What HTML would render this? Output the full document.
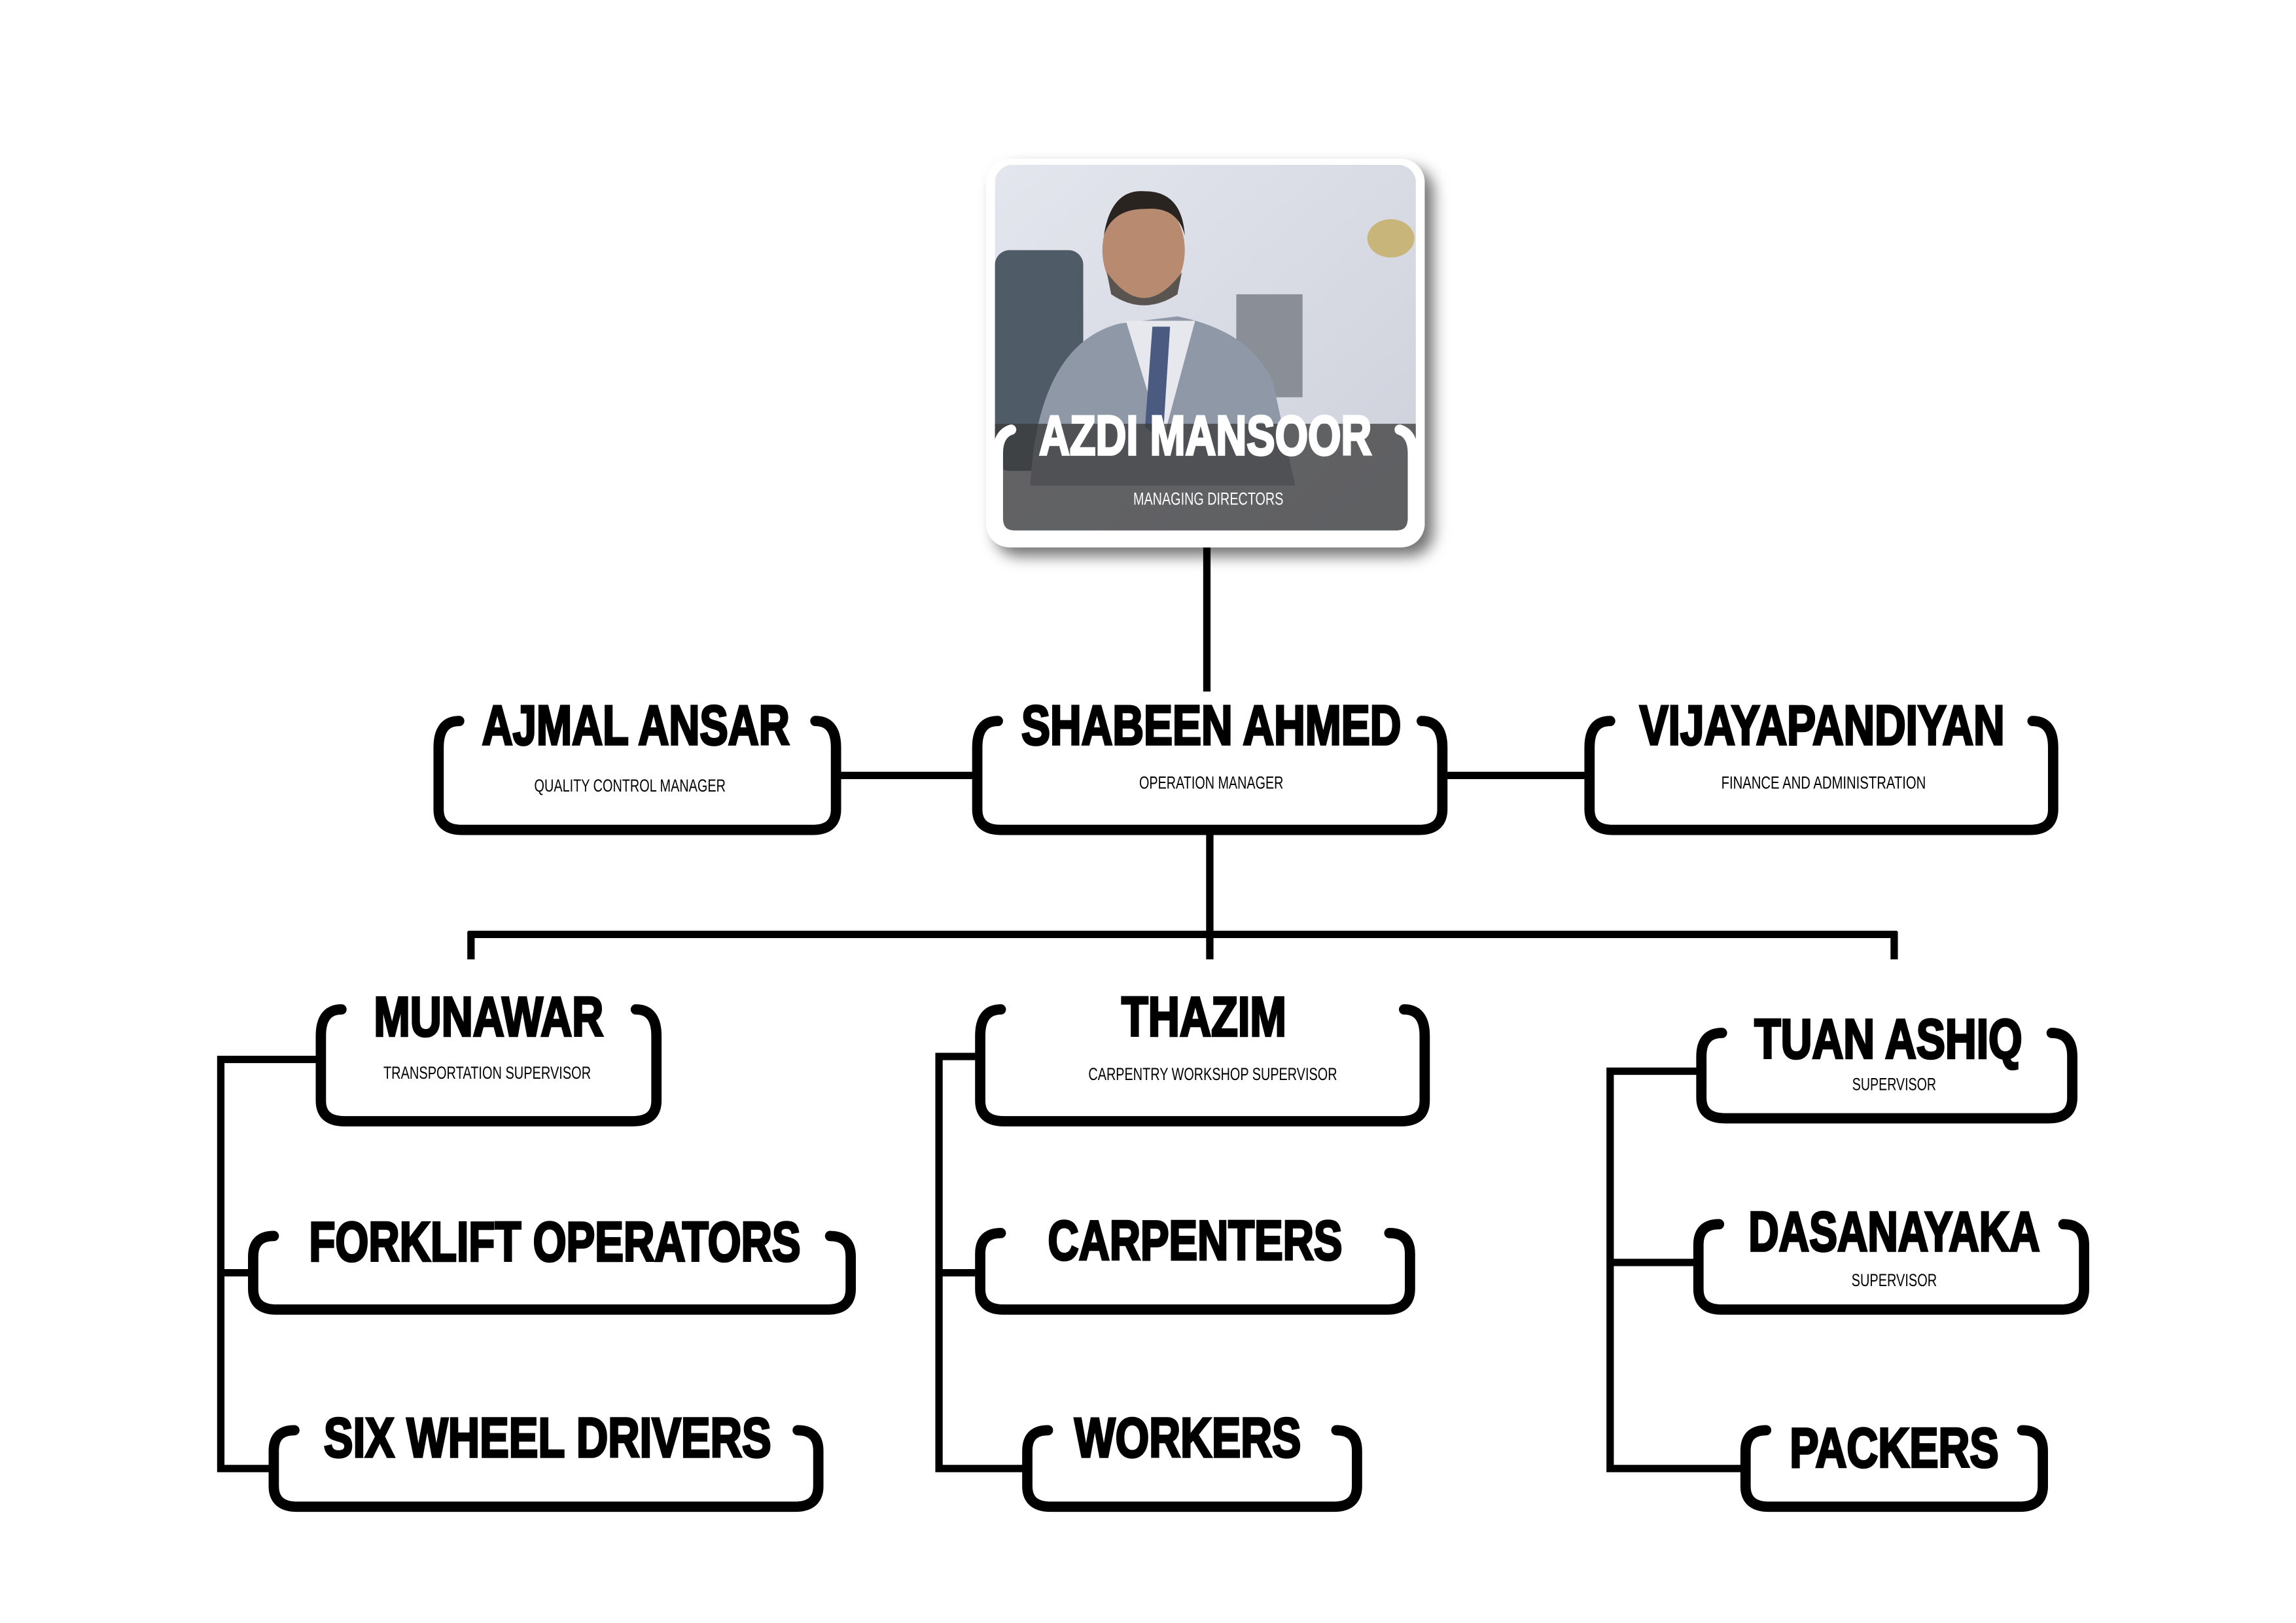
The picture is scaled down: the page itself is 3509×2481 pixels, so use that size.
<!DOCTYPE html>
<html><head><meta charset="utf-8"><style>
html,body{margin:0;padding:0;background:#fff;}
svg{display:block;}
.t{font-family:"Liberation Sans",sans-serif;font-weight:bold;font-size:38px;fill:#000;stroke:#000;stroke-width:1.6;}
.s{font-family:"Liberation Sans",sans-serif;font-size:12px;fill:#000;}
.b{fill:none;stroke:#000;stroke-width:7;stroke-linecap:round;}
.l{stroke:#000;stroke-width:5;fill:none;}
</style></head><body>
<svg width="3509" height="2481" viewBox="0 0 1560 1103" xmlns="http://www.w3.org/2000/svg">
<defs>
<filter id="sh" x="-10%" y="-10%" width="130%" height="130%"><feDropShadow dx="6" dy="6" stdDeviation="5" flood-color="#000" flood-opacity="0.55"/></filter>
<linearGradient id="bg" x1="0" y1="0" x2="1" y2="1"><stop offset="0" stop-color="#e4e6ee"/><stop offset="1" stop-color="#cdd0da"/></linearGradient>
<clipPath id="cp"><rect x="676" y="112" width="286" height="254" rx="12"/></clipPath>
</defs>
<g class="l">
<line x1="820" y1="372" x2="820" y2="470"/>
<line x1="570" y1="527" x2="662" y2="527"/>
<line x1="982" y1="527" x2="1078" y2="527"/>
<line x1="822" y1="566" x2="822" y2="652"/>
<line x1="318" y1="635" x2="1289" y2="635"/>
<line x1="320" y1="633" x2="320" y2="652"/>
<line x1="1287" y1="633" x2="1287" y2="652"/>
<polyline points="216,720 150,720 150,998 184,998"/>
<line x1="150" y1="865" x2="170" y2="865"/>
<polyline points="664,718 638,718 638,998 696,998"/>
<line x1="638" y1="865" x2="664" y2="865"/>
<polyline points="1154,728 1094,728 1094,998 1184,998"/>
<line x1="1094" y1="858" x2="1152" y2="858"/>
</g>
<rect x="670" y="108" width="298" height="264" rx="16" fill="#fff" filter="url(#sh)"/>
<g clip-path="url(#cp)">
<rect x="676" y="112" width="286" height="254" fill="url(#bg)"/>
<rect x="676" y="170" width="60" height="150" rx="10" fill="#4f5b66"/>
<rect x="840" y="200" width="45" height="70" fill="#8a8e96"/>
<path d="M700 330 Q705 235 760 220 L800 215 Q850 225 865 260 L880 330 Z" fill="#8e98a6"/>
<path d="M765 218 L790 300 L812 218 Z" fill="#e6e8ee"/>
<path d="M783 222 L778 290 L790 300 L795 222 Z" fill="#4a5a80"/>
<ellipse cx="777" cy="170" rx="28" ry="36" fill="#b88a70"/>
<path d="M750 160 Q755 128 778 130 Q803 130 805 160 Q800 140 778 142 Q756 142 750 160Z" fill="#2a2420"/>
<path d="M752 185 Q777 220 803 185 L800 200 Q777 215 755 200Z" fill="#5a5450"/>
<ellipse cx="945" cy="162" rx="16" ry="13" fill="#c8b57a"/>
<rect x="676" y="288" width="286" height="78" fill="#3a3a3a" opacity="0.75"/>
</g>
<path d="M687 292 Q678 295 678 308 L678 352 Q678 364 690 364 L948 364 Q960 364 960 352 L960 308 Q960 295 951 292" fill="none" stroke="#fff" stroke-width="7" stroke-linecap="round"/>
<text class="t" x="819" y="309" text-anchor="middle" textLength="226" lengthAdjust="spacingAndGlyphs" style="fill:#fff;stroke:#fff">AZDI MANSOOR</text>
<text class="s" x="821" y="343" text-anchor="middle" textLength="102" lengthAdjust="spacingAndGlyphs" style="fill:#fff">MANAGING DIRECTORS</text>

<g class="b">
<path d="M312 490 Q298 490 298 508 L298 550 Q298 564 314 564 L552 564 Q568 564 568 550 L568 508 Q568 490 554 490"/>
<path d="M678 490 Q664 490 664 508 L664 550 Q664 564 680 564 L964 564 Q980 564 980 550 L980 508 Q980 490 966 490"/>
<path d="M1094 490 Q1080 490 1080 508 L1080 550 Q1080 564 1096 564 L1379 564 Q1395 564 1395 550 L1395 508 Q1395 490 1381 490"/>
<path d="M232 686 Q218 686 218 704 L218 748 Q218 762 234 762 L430 762 Q446 762 446 748 L446 704 Q446 686 432 686"/>
<path d="M680 686 Q666 686 666 704 L666 748 Q666 762 682 762 L952 762 Q968 762 968 748 L968 704 Q968 686 954 686"/>
<path d="M1170 702 Q1156 702 1156 718 L1156 746 Q1156 760 1172 760 L1392 760 Q1408 760 1408 746 L1408 718 Q1408 702 1394 702"/>
<path d="M186 840 Q172 840 172 854 L172 876 Q172 890 188 890 L562 890 Q578 890 578 876 L578 854 Q578 840 564 840"/>
<path d="M680 838 Q666 838 666 852 L666 876 Q666 890 682 890 L942 890 Q958 890 958 876 L958 852 Q958 838 944 838"/>
<path d="M1168 832 Q1154 832 1154 846 L1154 876 Q1154 890 1170 890 L1400 890 Q1416 890 1416 876 L1416 846 Q1416 832 1402 832"/>
<path d="M200 972 Q186 972 186 986 L186 1010 Q186 1024 202 1024 L540 1024 Q556 1024 556 1010 L556 986 Q556 972 542 972"/>
<path d="M712 972 Q698 972 698 986 L698 1010 Q698 1024 714 1024 L906 1024 Q922 1024 922 1010 L922 986 Q922 972 908 972"/>
<path d="M1200 972 Q1186 972 1186 986 L1186 1010 Q1186 1024 1202 1024 L1372 1024 Q1388 1024 1388 1010 L1388 986 Q1388 972 1374 972"/>
</g>
<text class="t" x="432" y="506" text-anchor="middle" textLength="209" lengthAdjust="spacingAndGlyphs">AJMAL ANSAR</text>
<text class="t" x="823" y="506" text-anchor="middle" textLength="258" lengthAdjust="spacingAndGlyphs">SHABEEN AHMED</text>
<text class="t" x="1238" y="506" text-anchor="middle" textLength="248" lengthAdjust="spacingAndGlyphs">VIJAYAPANDIYAN</text>
<text class="t" x="332" y="704" text-anchor="middle" textLength="156" lengthAdjust="spacingAndGlyphs">MUNAWAR</text>
<text class="t" x="818" y="704" text-anchor="middle" textLength="112" lengthAdjust="spacingAndGlyphs">THAZIM</text>
<text class="t" x="1283" y="719" text-anchor="middle" textLength="182" lengthAdjust="spacingAndGlyphs">TUAN ASHIQ</text>
<text class="t" x="377" y="857" text-anchor="middle" textLength="334" lengthAdjust="spacingAndGlyphs">FORKLIFT OPERATORS</text>
<text class="t" x="812" y="856" text-anchor="middle" textLength="200" lengthAdjust="spacingAndGlyphs">CARPENTERS</text>
<text class="t" x="1287" y="850" text-anchor="middle" textLength="198" lengthAdjust="spacingAndGlyphs">DASANAYAKA</text>
<text class="t" x="372" y="990" text-anchor="middle" textLength="304" lengthAdjust="spacingAndGlyphs">SIX WHEEL DRIVERS</text>
<text class="t" x="807" y="990" text-anchor="middle" textLength="154" lengthAdjust="spacingAndGlyphs">WORKERS</text>
<text class="t" x="1287" y="997" text-anchor="middle" textLength="142" lengthAdjust="spacingAndGlyphs">PACKERS</text>
<text class="s" x="428" y="538" text-anchor="middle" textLength="130" lengthAdjust="spacingAndGlyphs">QUALITY CONTROL MANAGER</text>
<text class="s" x="823" y="536" text-anchor="middle" textLength="98" lengthAdjust="spacingAndGlyphs">OPERATION MANAGER</text>
<text class="s" x="1239" y="536" text-anchor="middle" textLength="139" lengthAdjust="spacingAndGlyphs">FINANCE AND ADMINISTRATION</text>
<text class="s" x="331" y="733" text-anchor="middle" textLength="141" lengthAdjust="spacingAndGlyphs">TRANSPORTATION SUPERVISOR</text>
<text class="s" x="824" y="734" text-anchor="middle" textLength="169" lengthAdjust="spacingAndGlyphs">CARPENTRY WORKSHOP SUPERVISOR</text>
<text class="s" x="1287" y="741" text-anchor="middle" textLength="57" lengthAdjust="spacingAndGlyphs">SUPERVISOR</text>
<text class="s" x="1287" y="874" text-anchor="middle" textLength="58" lengthAdjust="spacingAndGlyphs">SUPERVISOR</text>
</svg>
</body></html>
